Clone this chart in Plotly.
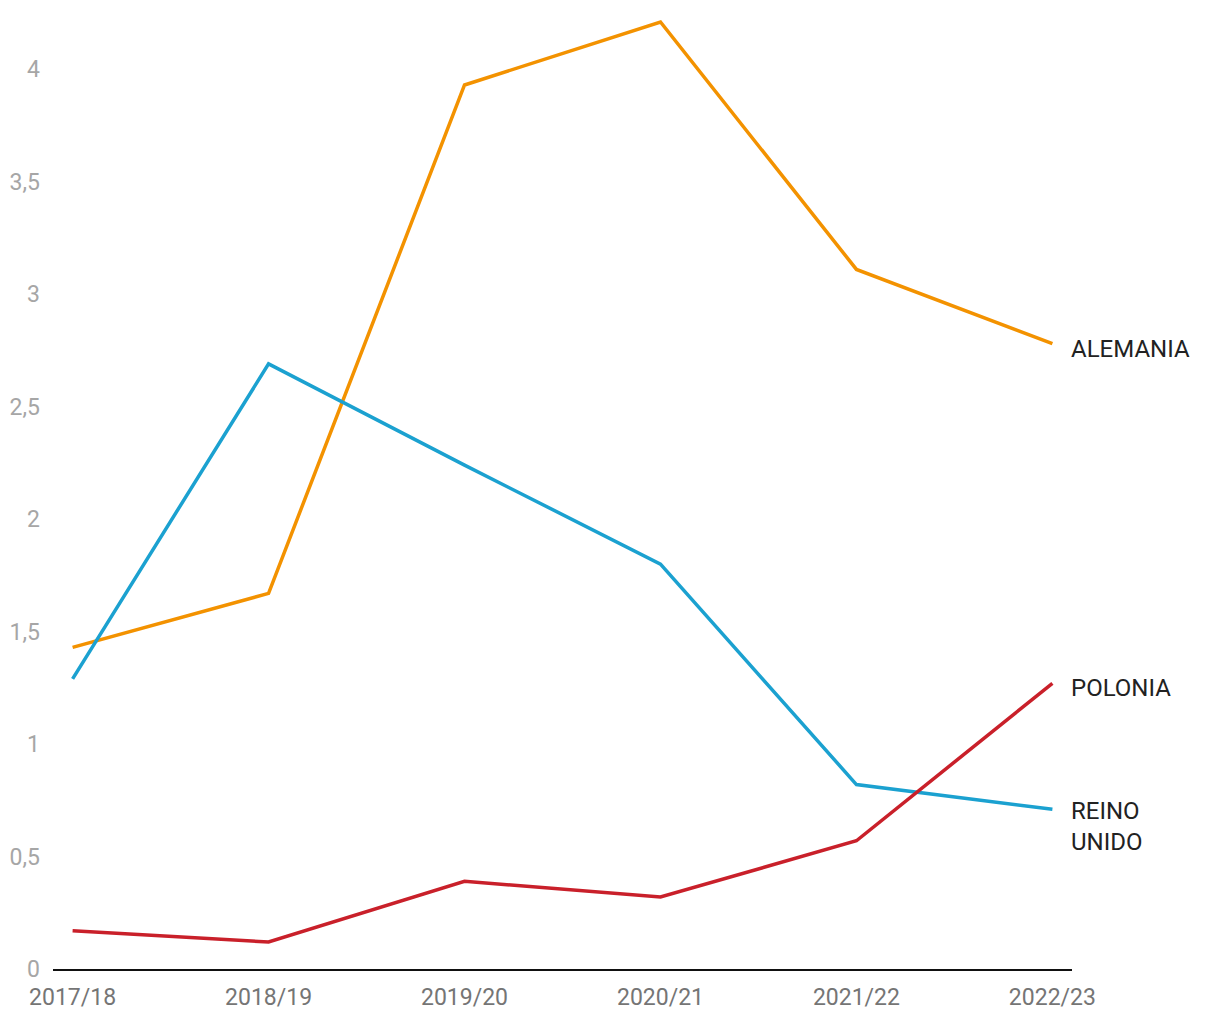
import plotly.graph_objects as go

seasons = ["2017/18", "2018/19", "2019/20", "2020/21", "2021/22", "2022/23"]
alemania = [1.43, 1.67, 3.93, 4.21, 3.11, 2.78]
reino_unido = [1.29, 2.69, 2.24, 1.80, 0.82, 0.71]
polonia = [0.17, 0.12, 0.39, 0.32, 0.57, 1.27]

series = [
    ("ALEMANIA", alemania, "#f39200", -5),
    ("REINO<br>UNIDO", reino_unido, "#1ba1d0", -17),
    ("POLONIA", polonia, "#c9202a", -5),
]

fig = go.Figure()
xs = list(range(len(seasons)))
for name, vals, color, ys in series:
    fig.add_trace(go.Scatter(x=xs, y=vals, mode="lines", name=name,
                             line=dict(color=color, width=3.5), hoverinfo="skip"))
    fig.add_annotation(x=xs[-1], y=vals[-1], text=name, xref="x", yref="y",
                       xanchor="left", yanchor="middle", xshift=17, yshift=ys,
                       showarrow=False, align="left",
                       font=dict(family="Roboto", size=24, color="#222222"))

fig.update_layout(
    width=1220, height=1020,
    margin=dict(l=53, r=148, t=13, b=51, autoexpand=False),
    paper_bgcolor="white", plot_bgcolor="white",
    showlegend=False,
    separators=",.",
    font=dict(family="Roboto", size=23),
    xaxis=dict(range=[-0.1, 5.1], tickmode="array", tickvals=xs, ticktext=seasons,
               showgrid=False, zeroline=False, showline=True, linecolor="#111111",
               linewidth=2, ticks="", ticklabelstandoff=6, automargin=False,
               tickfont=dict(color="#757575", size=23)),
    yaxis=dict(range=[0, 4.25], tickvals=[0, 0.5, 1, 1.5, 2, 2.5, 3, 3.5, 4],
               showgrid=False, zeroline=False, showline=False, ticks="",
               ticklabelstandoff=12, automargin=False,
               tickfont=dict(color="#a6a6a6", size=23)),
)

fig.write_html("out.html")
